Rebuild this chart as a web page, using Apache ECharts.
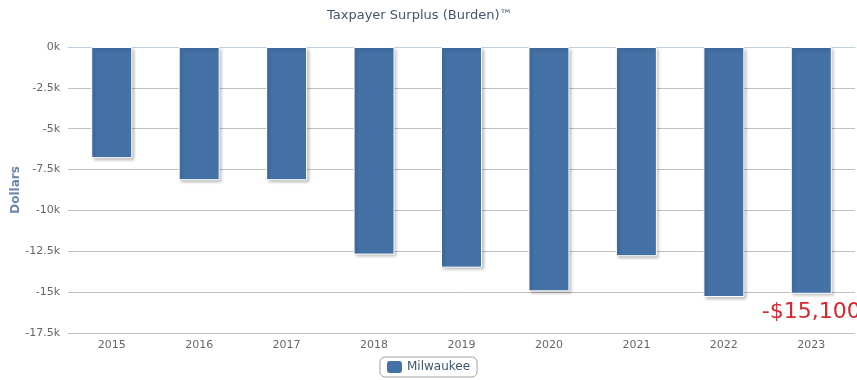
<!DOCTYPE html>
<html>
<head>
<meta charset="utf-8">
<script src="https://cdn.jsdelivr.net/npm/echarts@6/dist/echarts.min.js"></script>
<style>html,body{margin:0;padding:0;background:#fff}#c{width:857px;height:380px}</style>
</head>
<body>
<div id="c"></div>
<script>
const categories = ['2015','2016','2017','2018','2019','2020','2021','2022','2023'];
const values = [-6800, -8150, -8150, -12700, -13500, -14950, -12800, -15300, -15100];
const seriesName = 'Milwaukee';
const titleText = 'Taxpayer Surplus (Burden)™';
const yTicks = { min: -17500, max: 0, interval: 2500 };

const chart = echarts.init(document.getElementById('c'), null, { renderer: 'canvas' });
const font = 'DejaVu Sans';
const data = values.map((v, i) => {
  if (i === values.length - 1) {
    return {
      value: v,
      label: {
        show: true, position: 'bottom', distance: 8,
        color: '#d7262e', fontSize: 22, fontFamily: font,
        formatter: p => '-$' + Math.abs(p.value).toLocaleString('en-US')
      }
    };
  }
  return v;
});
chart.setOption({
  animation: false,
  title: {
    text: titleText, left: 322, top: 4,
    textStyle: { color: '#44566f', fontSize: 13, fontWeight: 'normal', fontFamily: font }
  },
  legend: {
    data: [seriesName], bottom: 3, left: 'center',
    borderColor: '#a0a0a0', borderWidth: 1, borderRadius: 5,
    padding: [4, 7, 4, 7], itemWidth: 15, itemHeight: 12,
    itemStyle: { borderWidth: 0, shadowBlur: 0, shadowOffsetX: 0, shadowOffsetY: 0 },
    textStyle: { color: '#3e576f', fontSize: 12, fontFamily: font }
  },
  grid: { left: 68, right: 2, top: 47, bottom: 47, containLabel: false, outerBoundsMode: 'none' },
  xAxis: {
    type: 'category', data: categories,
    axisLine: { lineStyle: { color: '#c0d0e0' } },
    axisTick: { alignWithLabel: true, length: 5, lineStyle: { color: '#c0d0e0' } },
    axisLabel: { color: '#666', fontSize: 11, fontFamily: font, margin: 7 }
  },
  yAxis: {
    type: 'value', min: yTicks.min, max: yTicks.max, interval: yTicks.interval,
    name: 'Dollars', nameLocation: 'middle', nameGap: 46, nameRotate: 90, nameMoveOverlap: false,
    nameTextStyle: { color: '#6b89ae', fontSize: 12, fontWeight: 'bold', fontFamily: font },
    axisLine: { show: false }, axisTick: { show: false },
    splitLine: { lineStyle: { color: '#c0c0c0', width: 1 } },
    axisLabel: { color: '#666', fontSize: 11, fontFamily: font, margin: 8,
      formatter: v => (v === 0 ? '0' : (v / 1000).toString()) + 'k' }
  },
  series: [{
    name: seriesName, type: 'bar', data: data, barWidth: 41,
    itemStyle: {
      color: '#4471a6', borderColor: '#ffffff', borderWidth: 1,
      shadowColor: 'rgba(0,0,0,0.25)', shadowBlur: 3, shadowOffsetX: 2, shadowOffsetY: 2
    }
  }]
});
</script>
</body>
</html>
